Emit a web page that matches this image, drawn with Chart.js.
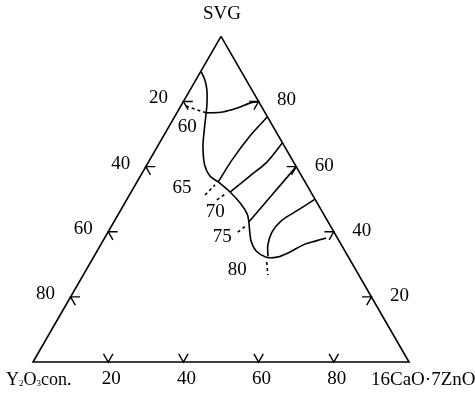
<!DOCTYPE html>
<html>
<head>
<meta charset="utf-8">
<script src="https://cdn.jsdelivr.net/npm/chart.js@4.4.0/dist/chart.umd.min.js"></script>
<style>
  body { margin: 0; background: #fff; }
  #wrap { width: 475px; height: 396px; }
</style>
</head>
<body>
<div id="wrap"><canvas id="ternario" width="475" height="396"></canvas></div>
<script>
// Composiciones en % como [SVG, 16CaO·7ZnO]; el resto es Y2O3 con.
const vertexLabels = ['SVG', 'Y₂O₃con.', '16CaO·7ZnO'];
const tickValues = [20, 40, 60, 80];

// curva límite (de arriba hacia abajo y luego a la derecha)
const boundaryCurve = [
    [89.1, 0.2], [86.6, 2.4], [83.5, 4.5], [78.9, 6.8], [76.5, 7.8], [71.3, 9.9],
    [66.0, 12.2], [60.5, 15.4], [57.1, 18.5], [55.3, 21.6], [52.2, 26.3], [48.8, 30.7],
    [45.5, 34.2], [43.0, 35.9], [39.9, 37.7], [36.9, 39.6], [34.1, 42.3], [32.2, 45.9],
    [32.2, 48.8], [33.5, 51.1], [35.9, 53.8], [37.2, 56.7], [38.1, 58.9]
];
// rama que sube desde el mínimo hasta el lado derecho
const branchCurve = [[32.4, 46.3], [35.9, 44.5], [39.9, 43.6], [43.3, 44.3], [46.7, 47.2], [50.0, 50.0]];
const bottomDash = [[30.7, 46.8], [26.7, 49.1]];

// líneas de enlace: etiquetas, tramo continuo y tramo punteado
const tieLabels = ['60', '65', '70', '75', '80'];
const tieSolid = [
    [[76.5, 7.8], [76.8, 12.1], [78.0, 15.3], [79.5, 17.9], [80.0, 20.0]],
    [[55.3, 21.6], [62.0, 21.9], [69.4, 23.0], [75.3, 24.7]],
    [[52.2, 26.3], [57.1, 29.1], [61.4, 31.5], [67.3, 32.7]],
    [[43.0, 35.9], [60.0, 40.0]]
];
const tieDashed = [
    [[78.6, 1.4], [76.5, 7.8]],
    [[51.3, 20.1], [54.4, 21.2]],
    [[49.8, 24.0], [51.9, 25.6]],
    [[39.9, 34.5], [42.1, 35.9]]
];
const tieLabelPos = [[72.2, 4.9], [53.4, 12.9], [46.1, 25.4], [38.4, 31.1], [28.3, 40.2]];

// --- conversión ternaria a cartesiana ---
const H = Math.sqrt(3) / 2;
const toXY = ([svg, cazn]) => ({ x: cazn / 100 + svg / 200, y: svg / 100 * H });

const lineSet = (pts, opts = {}) => Object.assign({
    data: pts.map(toXY),
    showLine: true,
    borderColor: '#000',
    borderWidth: 1.6,
    pointRadius: 0,
    tension: 0.35,
    fill: false
}, opts);

// marcas en forma de flecha: punta sobre el lado, brazos paralelos a los otros lados
const ARM = 0.025;
const arrowSet = (tip, d1, d2) => {
    const p = toXY(tip);
    return {
        data: [{ x: p.x + ARM * d1[0], y: p.y + ARM * d1[1] }, p, { x: p.x + ARM * d2[0], y: p.y + ARM * d2[1] }],
        showLine: true, borderColor: '#000', borderWidth: 1.4, pointRadius: 0, tension: 0
    };
};

const datasets = [];
datasets.push(lineSet([[100, 0], [0, 0], [0, 100], [100, 0]], { tension: 0 }));
tickValues.forEach(v => {
    datasets.push(arrowSet([100 - v, 0], [1, 0], [0.5, -H]));      // lado izquierdo
    datasets.push(arrowSet([v, 100 - v], [-1, 0], [-0.5, -H]));    // lado derecho
    datasets.push(arrowSet([0, v], [-0.5, H], [0.5, H]));          // base
});
datasets.push(lineSet(boundaryCurve));
datasets.push(lineSet(branchCurve));
datasets.push(lineSet(bottomDash, { borderDash: [3, 3], tension: 0 }));
tieSolid.forEach(t => datasets.push(lineSet(t, { tension: 0.3 })));
tieDashed.forEach(t => datasets.push(lineSet(t, { borderDash: [3, 3], tension: 0 })));

const FONT = '"Liberation Serif", "DejaVu Serif", serif';

// texto con subíndices: los dígitos tras una letra se escriben pequeños y bajados
const putFormula = (ctx, txt, x, y, size) => {
    const parts = txt.replace(/₂/g, '_2').replace(/₃/g, '_3').split(/(_\d)/);
    ctx.textAlign = 'left';
    parts.forEach(p => {
        if (!p) return;
        const sub = p.startsWith('_');
        const s = sub ? p.slice(1) : p;
        ctx.font = (sub ? Math.round(size * 0.5) : size) + 'px ' + FONT;
        ctx.fillText(s, x, y + (sub ? size * 0.22 : 0));
        x += ctx.measureText(s).width;
    });
};

// textos del diagrama
const textPlugin = {
    id: 'textos',
    afterDatasetsDraw(chart) {
        const ctx = chart.ctx;
        const sx = chart.scales.x, sy = chart.scales.y;
        const px = (c, dx = 0, dy = 0) => {
            const p = toXY(c);
            return [sx.getPixelForValue(p.x) + dx, sy.getPixelForValue(p.y) + dy];
        };
        ctx.save();
        ctx.fillStyle = '#000';
        ctx.font = '19px ' + FONT;
        ctx.textAlign = 'center';
        ctx.textBaseline = 'middle';
        const put = (txt, xy) => ctx.fillText(txt, xy[0], xy[1]);

        put(vertexLabels[0], px([100, 0], 1, -22));
        ctx.textAlign = 'left';
        put(vertexLabels[2], px([0, 100], -38, 18));
        ctx.textAlign = 'center';

        tickValues.forEach(v => {
            put(String(v), px([100 - v, 0], -25, -3));
            put(String(v), px([v, 100 - v], 28, -1));
            put(String(v), px([0, v], 3, 17));
        });
        tieLabels.forEach((l, i) => put(l, px(tieLabelPos[i])));

        const bl = px([0, 0], -27, 18);
        putFormula(ctx, vertexLabels[1], bl[0], bl[1], 18);
        ctx.restore();
    }
};

new Chart(document.getElementById('ternario'), {
    type: 'scatter',
    data: { datasets },
    options: {
        responsive: false,
        animation: false,
        layout: { padding: 0 },
        plugins: { legend: { display: false }, tooltip: { enabled: false } },
        scales: {
            x: { type: 'linear', display: false, min: -0.0878, max: 1.1755 },
            y: { type: 'linear', display: false, min: -0.0904, max: 0.9628 }
        }
    },
    plugins: [textPlugin]
});
</script>
</body>
</html>
